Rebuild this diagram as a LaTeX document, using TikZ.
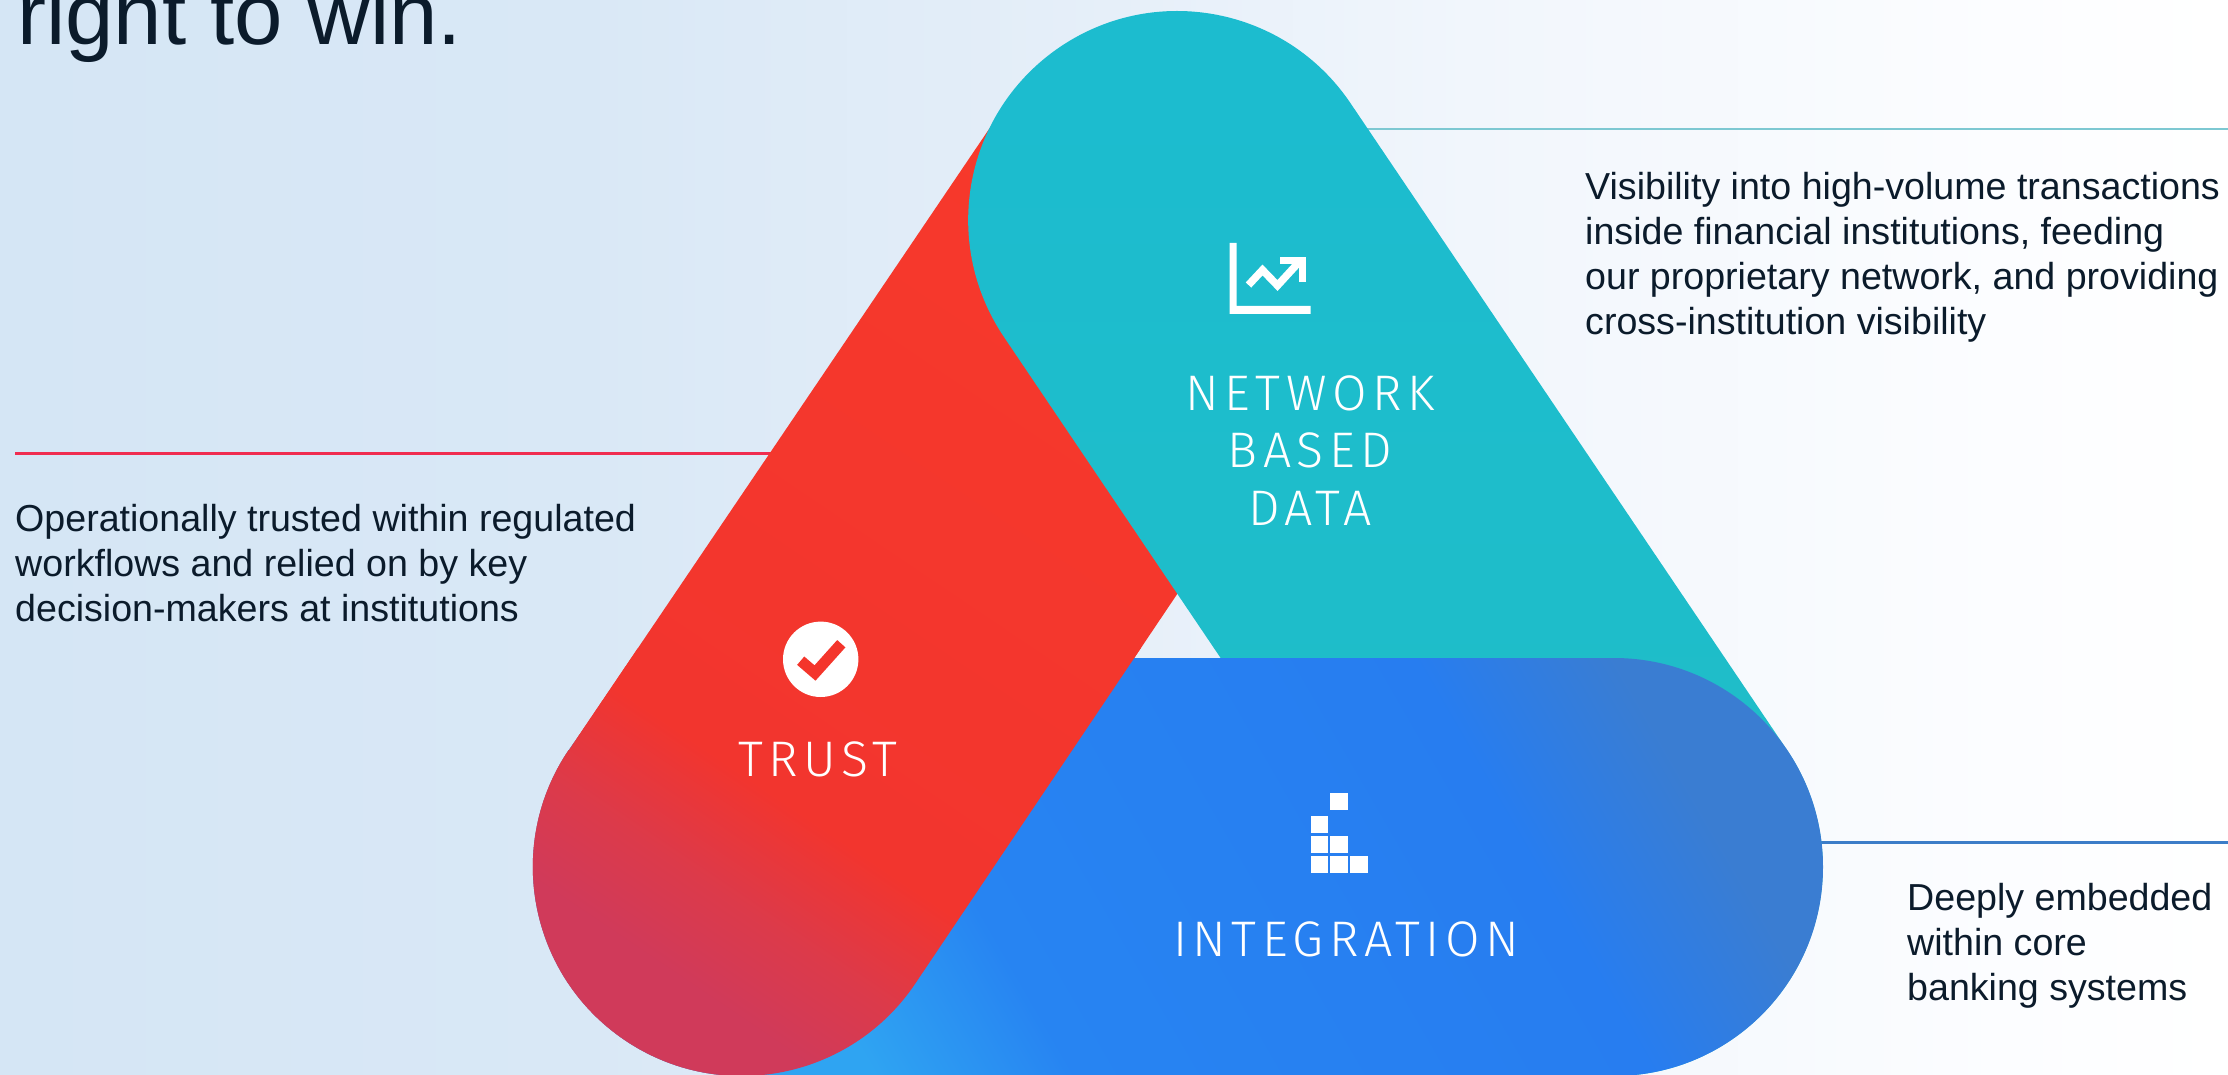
\documentclass[tikz,border=0pt]{standalone}
\usepackage{fontspec}
\setmainfont{Liberation Sans}
\newfontfamily\labfont[LetterSpace=11,UprightFont=* Light]{Fira Sans}
\usetikzlibrary{shadings}
\definecolor{inktext}{HTML}{0B1B2B}
\definecolor{redfill}{HTML}{F4352B}
\definecolor{redline}{HTML}{F02D50}
\definecolor{tealline}{HTML}{7DC8D2}
\definecolor{blueline}{HTML}{3C7DC8}
\definecolor{bga}{HTML}{D5E6F5}
\definecolor{bgb}{HTML}{D9E8F6}
\definecolor{bgc}{HTML}{E6EFF9}
\definecolor{bgd}{HTML}{F1F6FC}
\definecolor{bge}{HTML}{FCFDFF}
\definecolor{rda}{HTML}{D03A5A}
\definecolor{rdb}{HTML}{DC3A4A}
\definecolor{rdc}{HTML}{F2352E}
\definecolor{rdd}{HTML}{F7392B}
\definecolor{bla}{HTML}{2FA4F2}
\definecolor{blb}{HTML}{2784F2}
\definecolor{blc}{HTML}{277DF0}
\definecolor{bld}{HTML}{3A7DD2}
\definecolor{tla}{HTML}{20BEC6}
\definecolor{tlb}{HTML}{1CBCCF}
\pgfdeclarehorizontalshading{bgshade}{100bp}{color(0bp)=(bga);color(25bp)=(bga);color(38bp)=(bgb);color(50bp)=(bgc);color(58bp)=(bgd);color(70bp)=(bge);color(75bp)=(white);color(100bp)=(white)}
\pgfdeclarehorizontalshading{redshade}{100bp}{color(0bp)=(rda);color(26bp)=(rda);color(31bp)=(rdb);color(37bp)=(rdc);color(75bp)=(rdd);color(100bp)=(rdd)}
\pgfdeclarehorizontalshading{blueshade}{100bp}{color(0bp)=(bla);color(31bp)=(bla);color(40bp)=(blb);color(66bp)=(blc);color(75bp)=(bld);color(100bp)=(bld)}
\pgfdeclarehorizontalshading{tealshade}{100bp}{color(0bp)=(tla);color(30bp)=(tla);color(70bp)=(tlb);color(100bp)=(tlb)}
\tikzset{
  bodytext/.style={anchor=north west,inner sep=0pt,align=left,text=inktext,font=\fontsize{37.6}{45}\selectfont},
  titletext/.style={anchor=base west,inner sep=0pt,text=inktext,font=\fontsize{87}{100}\selectfont},
  labeltext/.style={inner sep=0pt,align=center,text=white,font=\labfont\fontsize{50}{57.5}\selectfont},
  leader/.style={line width=2.6pt},
  iconstroke/.style={draw=white,line width=7.5pt,miter limit=10},
  block/.style={fill=white},
}
\def\redband{(569,750) -- (1006,104) -- (1200,220) -- (1350,337) -- (915,984) arc[start angle=34.04,delta angle=180,radius=209] -- cycle}
\def\tealband{(1004,337) arc[start angle=145.96,delta angle=180,radius=209] -- (1787,750) arc[start angle=-34.04,delta angle=180,radius=209] -- cycle}
\def\blueband{(742,658) -- (1614,658) arc[start angle=-90,delta angle=180,radius=209] -- (742,1076) arc[start angle=90,delta angle=180,radius=209] -- cycle}
\begin{document}
\begin{tikzpicture}[x=1pt,y=-1pt]
\useasboundingbox (0,0) rectangle (2228,1075);
\shade[shading=bgshade] (0,0) rectangle (2228,1075);

% leader ends
\coordinate (redA) at (15,453.5);
\coordinate (redB) at (790,453.5);
\coordinate (tealA) at (1340,129);
\coordinate (tealB) at (2228,129);
\coordinate (blueA) at (1780,842.5);
\coordinate (blueB) at (2228,842.5);
\draw[leader,draw=redline] (redA) -- (redB);
\draw[leader,draw=tealline] (tealA) -- (tealB);
\draw[leader,draw=blueline] (blueA) -- (blueB);

% interlocking bands
\shade[shading=redshade,shading angle=56] \redband;
\shade[shading=tealshade,shading angle=90] \tealband;
\shade[shading=blueshade,shading angle=30] \blueband;
\begin{scope}
\clip (400,648) rectangle (1500,1075);
\shade[shading=redshade,shading angle=56] \redband;
\end{scope}

% texts
\node[titletext] (title) at (17,44.5) {right to win.};
\node[bodytext] (trusttext) at (15,504) {Operationally trusted within regulated\\workflows and relied on by key\\decision-makers at institutions};
\node[bodytext] (datatext) at (1585,172) {Visibility into high-volume transactions\\inside financial institutions, feeding\\our proprietary network, and providing\\cross-institution visibility};
\node[bodytext] (integrationtext) at (1907,883) {Deeply embedded\\within core\\banking systems};

\node[labeltext,anchor=base] (datalabel) at (1310,525) {NETWORK\\BASED\\DATA};
\node[labeltext,anchor=base] (trustlabel) at (818,776) {TRUST};
\node[labeltext,anchor=base] (integrationlabel) at (1346,956) {INTEGRATION};

% chart icon
\fill[white] (1229.5,243) -- (1236.5,243) -- (1236.5,306) -- (1310.5,306) -- (1310.5,314) -- (1229.5,314) -- cycle;
\draw[iconstroke] (1248.5,285) -- (1262.5,270) -- (1277.5,285.5) -- (1300,261);
\draw[iconstroke] (1280,260.5) -- (1302.5,260.5) -- (1302.5,282.5);

% check icon
\fill[white] (820.7,659.3) circle[radius=37.7];
\draw[draw=redfill,line width=11pt,miter limit=10] (800.7,660.7) -- (815,673) -- (841.3,643.7);

% blocks icon
\fill[block] (1330,793) rectangle +(17.5,17);
\fill[block] (1310.5,816) rectangle +(17.5,17);
\fill[block] (1310.5,836) rectangle +(17.5,17);
\fill[block] (1330,836) rectangle +(17.5,17);
\fill[block] (1310.5,856) rectangle +(17.5,17);
\fill[block] (1330,856) rectangle +(17.5,17);
\fill[block] (1350,856) rectangle +(17.5,17);
\end{tikzpicture}
\end{document}
